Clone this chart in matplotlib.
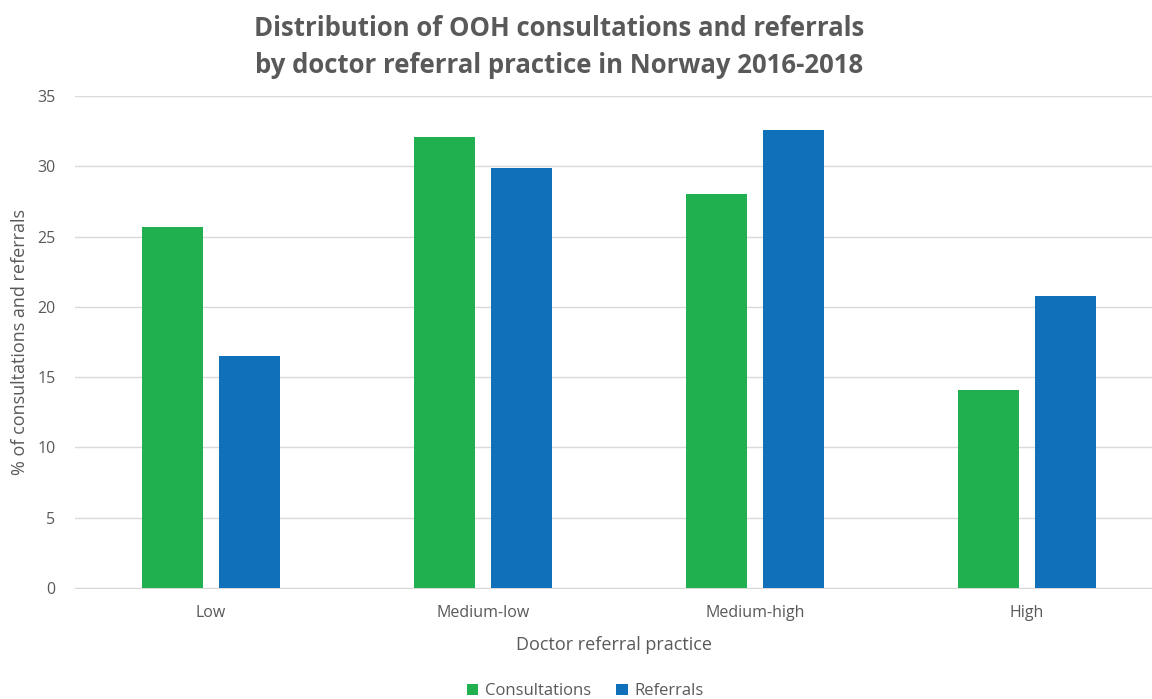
import numpy as np
import matplotlib.pyplot as plt

# data
categories = ['Low', 'Medium-low', 'Medium-high', 'High']
consultations = [25.7, 32.1, 28.0, 14.1]
referrals = [16.5, 29.9, 32.6, 20.8]

green = '#21B04F'
blue = '#1170BA'
grey_text = '#595959'

plt.rcParams['font.family'] = ['Open Sans', 'DejaVu Sans']

fig = plt.figure(figsize=(11.52, 6.99), dpi=100)
ax = fig.add_axes([75 / 1152, 1 - 588 / 699, 1 - 75 / 1152, (588 - 96) / 699])

x = np.arange(len(categories))
w = 0.224
off = 0.143
ax.bar(x - off, consultations, w, color=green, label='Consultations', zorder=3)
ax.bar(x + off, referrals, w, color=blue, label='Referrals', zorder=3)

ax.set_xlim(-0.5, 3.5 - 11 / 272)
ax.set_ylim(0, 35)
ax.set_yticks(np.arange(0, 36, 5))
ax.set_xticks(x)
ax.set_xticklabels(categories)
ax.yaxis.grid(True, color='#D9D9D9', linewidth=1, zorder=0)
ax.tick_params(length=0, colors=grey_text, labelsize=11.5)
ax.tick_params(axis='x', pad=12)
ax.tick_params(axis='y', pad=14)
for s in ['top', 'right', 'left']:
    ax.spines[s].set_visible(False)
ax.spines['bottom'].set_color('#D9D9D9')

ax.set_xlabel('Doctor referral practice', color=grey_text, fontsize=13, labelpad=11)
ax.set_ylabel('% of consultations and referrals', color=grey_text, fontsize=13, labelpad=6)

fig.text(0.485, 0.978, 'Distribution of OOH consultations and referrals\nby doctor referral practice in Norway 2016-2018',
         ha='center', va='top', fontsize=18.5, fontweight='bold', color=grey_text, linespacing=1.45)

fig.legend(loc='center', bbox_to_anchor=(0.508, 0.011), ncol=2, frameon=False,
           fontsize=12, labelcolor=grey_text, handlelength=0.7, handleheight=0.7,
           handletextpad=0.4, columnspacing=1.5)

fig.savefig('out.png', dpi=100)
